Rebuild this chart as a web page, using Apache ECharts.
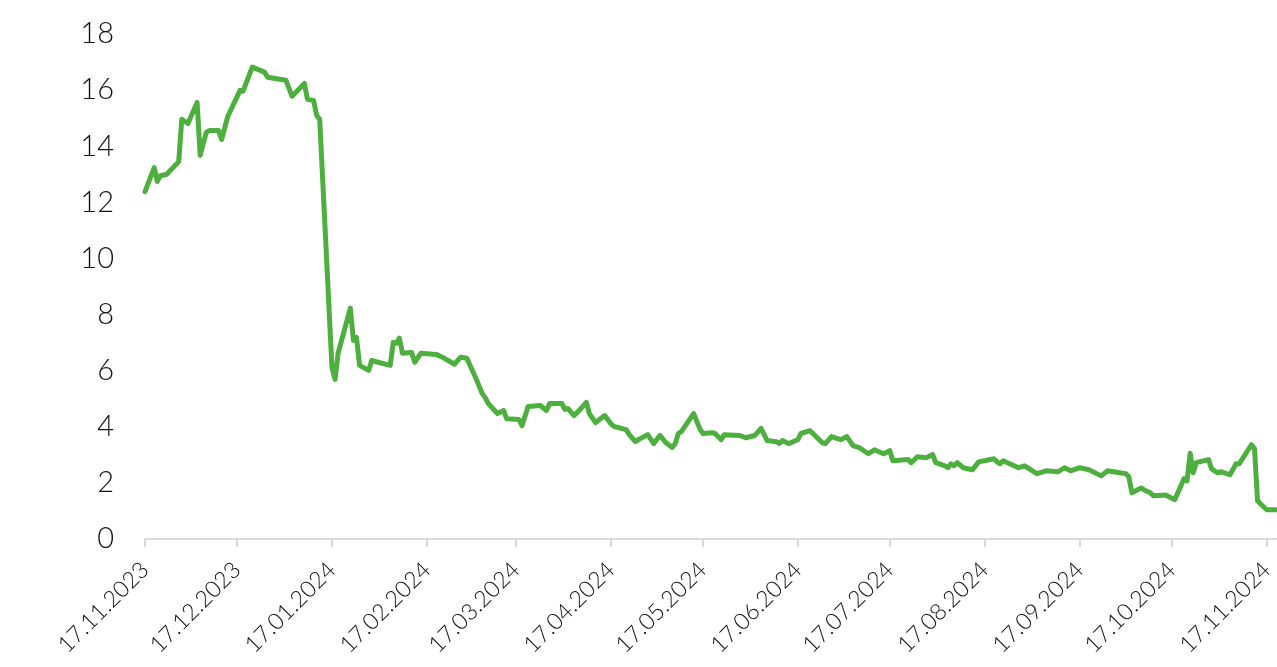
<!DOCTYPE html>
<html>
<head>
<meta charset="utf-8">
<script src="https://cdn.jsdelivr.net/npm/echarts@6/dist/echarts.min.js"></script>
<style>
  html, body { margin: 0; padding: 0; background: #ffffff; }
  #chart { width: 1277px; height: 667px; }
</style>
</head>
<body>
<div id="chart"></div>
<script>
// Observation dates and values of the series
const dates = [
  '2023-11-17','2023-11-20','2023-11-21','2023-11-22','2023-11-24','2023-11-28','2023-11-29','2023-12-01',
  '2023-12-04','2023-12-05','2023-12-07','2023-12-08','2023-12-11','2023-12-12','2023-12-14','2023-12-18',
  '2023-12-19','2023-12-22','2023-12-26','2023-12-27','2024-01-02','2024-01-04','2024-01-08','2024-01-09',
  '2024-01-11','2024-01-12','2024-01-13','2024-01-17','2024-01-18','2024-01-19','2024-01-23','2024-01-24',
  '2024-01-25','2024-01-26','2024-01-29','2024-01-30','2024-02-01','2024-02-05','2024-02-06','2024-02-07',
  '2024-02-08','2024-02-09','2024-02-12','2024-02-13','2024-02-15','2024-02-20','2024-02-22','2024-02-26',
  '2024-02-28','2024-03-01','2024-03-04','2024-03-06','2024-03-07','2024-03-08','2024-03-11','2024-03-13',
  '2024-03-14','2024-03-18','2024-03-19','2024-03-21','2024-03-25','2024-03-27','2024-03-28','2024-04-01',
  '2024-04-02','2024-04-03','2024-04-05','2024-04-07','2024-04-09','2024-04-10','2024-04-12','2024-04-15',
  '2024-04-17','2024-04-18','2024-04-22','2024-04-23','2024-04-25','2024-04-26','2024-04-29','2024-05-01',
  '2024-05-03','2024-05-05','2024-05-07','2024-05-08','2024-05-09','2024-05-10','2024-05-14','2024-05-16',
  '2024-05-17','2024-05-20','2024-05-21','2024-05-23','2024-05-24','2024-05-29','2024-05-31','2024-06-03',
  '2024-06-05','2024-06-07','2024-06-10','2024-06-11','2024-06-12','2024-06-14','2024-06-17','2024-06-18',
  '2024-06-21','2024-06-25','2024-06-26','2024-06-28','2024-07-01','2024-07-03','2024-07-05','2024-07-07',
  '2024-07-10','2024-07-12','2024-07-15','2024-07-17','2024-07-18','2024-07-23','2024-07-24','2024-07-26',
  '2024-07-29','2024-07-31','2024-08-01','2024-08-04','2024-08-05','2024-08-06','2024-08-07','2024-08-08',
  '2024-08-10','2024-08-13','2024-08-15','2024-08-20','2024-08-21','2024-08-22','2024-08-23','2024-08-28',
  '2024-08-30','2024-09-03','2024-09-06','2024-09-10','2024-09-12','2024-09-14','2024-09-17','2024-09-20',
  '2024-09-24','2024-09-26','2024-09-30','2024-10-02','2024-10-03','2024-10-04','2024-10-07','2024-10-08',
  '2024-10-10','2024-10-11','2024-10-15','2024-10-18','2024-10-21','2024-10-22','2024-10-23','2024-10-24',
  '2024-10-25','2024-10-29','2024-10-30','2024-11-01','2024-11-02','2024-11-05','2024-11-07','2024-11-08',
  '2024-11-12','2024-11-13','2024-11-14','2024-11-15','2024-11-17','2024-11-20'
];

const values = [
  12.38,13.24,12.74,12.95,12.99,13.45,14.96,14.81,
  15.56,13.67,14.49,14.56,14.56,14.24,15.06,15.99,
  15.96,16.82,16.64,16.46,16.35,15.78,16.24,15.67,
  15.63,15.10,14.96,6.12,5.69,6.62,8.23,7.08,
  7.19,6.19,6.01,6.37,6.30,6.19,7.01,6.98,
  7.16,6.62,6.65,6.30,6.62,6.58,6.48,6.23,
  6.48,6.44,5.72,5.19,5.04,4.83,4.47,4.58,
  4.29,4.26,4.04,4.72,4.76,4.58,4.83,4.83,
  4.62,4.65,4.40,4.62,4.87,4.47,4.15,4.40,
  4.11,4.01,3.90,3.72,3.47,3.54,3.72,3.40,
  3.69,3.43,3.26,3.40,3.76,3.83,4.47,3.94,
  3.76,3.79,3.76,3.54,3.72,3.69,3.61,3.69,
  3.94,3.51,3.47,3.40,3.51,3.40,3.54,3.76,
  3.86,3.43,3.40,3.65,3.54,3.65,3.33,3.26,
  3.04,3.18,3.04,3.15,2.79,2.83,2.72,2.93,
  2.90,3.01,2.72,2.61,2.54,2.68,2.61,2.72,
  2.54,2.47,2.75,2.86,2.75,2.68,2.79,2.54,
  2.61,2.33,2.43,2.40,2.54,2.43,2.54,2.47,
  2.25,2.43,2.36,2.33,2.22,1.65,1.82,1.75,
  1.65,1.54,1.57,1.40,2.15,2.07,3.06,2.36,
  2.72,2.83,2.50,2.36,2.40,2.29,2.68,2.68,
  3.36,3.22,1.36,1.25,1.04,1.04
];

// Dates marked on the horizontal axis
const tickDates = [
  '2023-11-17','2023-12-17','2024-01-17','2024-02-17','2024-03-17','2024-04-17','2024-05-17',
  '2024-06-17','2024-07-17','2024-08-17','2024-09-17','2024-10-17','2024-11-17'
];

// Value axis range and step
const yMin = 0;
const yMax = 18;
const yStep = 2;

// Dates are placed on a linear axis in UTC milliseconds
const toTime = s => {
  const [y, m, d] = s.split('-').map(Number);
  return Date.UTC(y, m - 1, d);
};
const pad = n => String(n).padStart(2, '0');
const fmtDate = t => {
  const d = new Date(t);
  return pad(d.getUTCDate()) + '.' + pad(d.getUTCMonth() + 1) + '.' + d.getUTCFullYear();
};

const tickTimes = tickDates.map(toTime);
const seriesData = dates.map((d, i) => [toTime(d), values[i]]);

const chart = echarts.init(document.getElementById('chart'), null, { renderer: 'canvas' });

const labelFont = 'Lato, "DejaVu Sans", sans-serif';

chart.setOption({
  animation: false,
  backgroundColor: '#ffffff',
  grid: { left: 145, right: 0, top: 34, bottom: 128, containLabel: false },
  xAxis: {
    type: 'value',
    min: toTime(dates[0]),
    max: toTime(dates[dates.length - 1]),
    splitLine: { show: false },
    axisLine: { show: true, lineStyle: { color: '#d9d9d9', width: 2 } },
    axisTick: {
      show: true,
      customValues: tickTimes,
      length: 8,
      lineStyle: { color: '#d9d9d9', width: 2 }
    },
    axisLabel: {
      customValues: tickTimes,
      rotate: 45,
      margin: 27,
      color: '#111111',
      fontFamily: labelFont,
      fontWeight: 300,
      fontSize: 23,
      hideOverlap: false,
      showMinLabel: true,
      showMaxLabel: true,
      formatter: v => fmtDate(v)
    }
  },
  yAxis: {
    type: 'value',
    min: yMin,
    max: yMax,
    interval: yStep,
    axisLine: { show: false },
    axisTick: { show: false },
    splitLine: { show: false },
    axisLabel: {
      margin: 31,
      color: '#111111',
      fontFamily: labelFont,
      fontWeight: 300,
      fontSize: 29
    }
  },
  series: [{
    type: 'line',
    data: seriesData,
    showSymbol: false,
    smooth: false,
    clip: false,
    lineStyle: { color: '#4DAF3E', width: 5, join: 'round', cap: 'round' }
  }]
});
</script>
</body>
</html>
